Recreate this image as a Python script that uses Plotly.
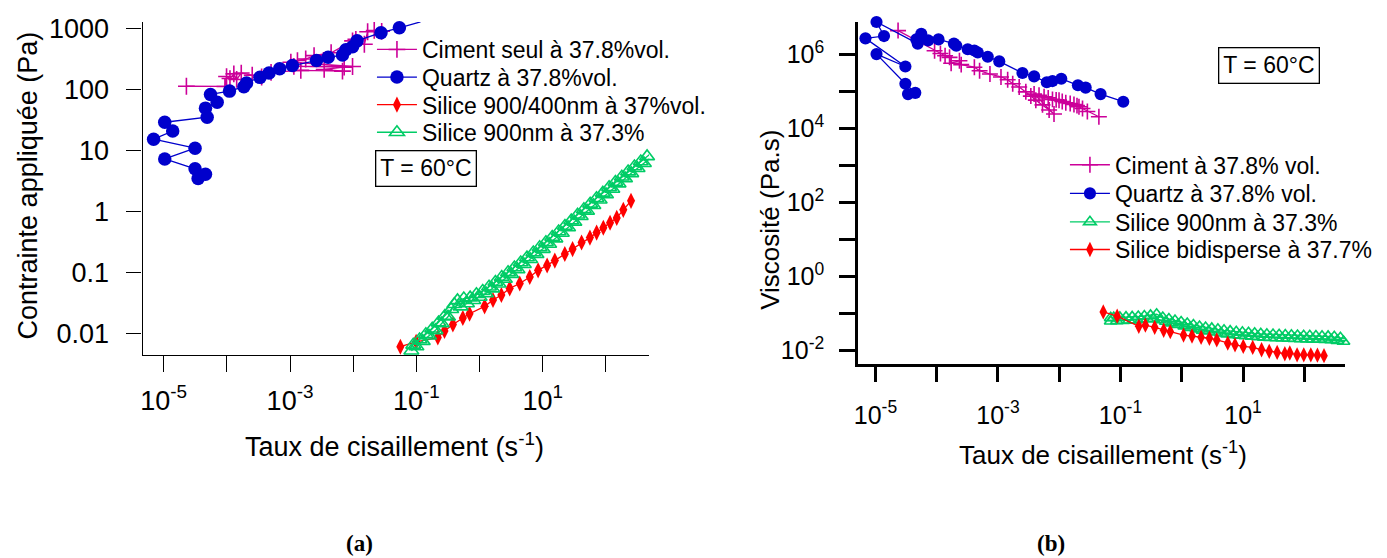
import plotly.graph_objects as go

# ---------------- Panel (a): stress vs shear rate ----------------
cim_a_rate = [2.29e-5, 9.33e-5, 9.89e-5, 1.12e-4, 1.29e-4, 1.43e-4, 1.69e-4, 2.52e-4, 3.55e-4, 5.01e-4,
              1.48e-3, 6.76e-3, 3.47e-3, 7.19e-3, 1.15e-3, 9.75e-3, 1.03e-3, 1.31e-3, 1.77e-3, 2.40e-3,
              4.47e-3, 9.75e-3, 1.10e-2, 1.50e-2, 1.69e-2, 2.15e-2, 2.82e-2]
cim_a_stress = [113, 112, 163, 151, 180, 146, 186, 171, 160, 190,
                206, 200, 213, 232, 240, 238, 280, 298, 316, 359,
                400, 626, 665, 552, 885, 929, 900]

quartz_a_rate = [3.51e-5, 4.59e-5, 3.14e-5, 1.04e-5, 3.14e-5, 6.93e-6, 1.39e-5, 1.04e-5, 4.88e-5, 4.59e-5,
                 7.03e-5, 5.51e-5, 1.10e-4, 1.86e-4, 2.05e-4, 3.34e-4, 4.65e-4, 6.85e-4, 1.09e-3, 2.62e-3,
                 4.01e-3, 6.76e-3, 7.66e-3, 9.75e-3, 1.15e-2, 2.75e-2, 5.37e-2, 0.116]
quartz_a_stress = [3.46, 4.06, 5.0, 7.26, 10.9, 15.3, 20.8, 29, 35, 49.4,
                   61.7, 83, 94, 111, 128, 158, 186, 218, 247, 298,
                   337, 367, 448, 501, 627, 853, 1026, 1283]

bidisp_a_rate = [0.0557, 0.0989, 0.218, 0.278, 0.378, 0.543, 0.693, 1.20, 1.63, 2.21, 2.99, 4.32, 6.22,
                 8.43, 11.7, 15.5, 22.3, 29.6, 41.1, 55.7, 71.1, 90.8, 116, 148, 188, 249]
bidisp_a_stress = [0.00604, 0.00726, 0.00853, 0.0109, 0.0140, 0.0179, 0.0210, 0.0277, 0.0353, 0.0426,
                   0.0546, 0.0658, 0.0841, 0.108, 0.130, 0.156, 0.200, 0.241, 0.309, 0.372, 0.449,
                   0.540, 0.650, 0.783, 1.06, 1.49]

s900_a_rate = [0.0832, 0.1, 0.126, 0.158, 0.2, 0.251, 0.316, 0.398, 0.501, 0.631,
               0.794, 1.0, 1.26, 1.58, 2.0, 2.51, 3.16, 3.98, 5.01, 6.31,
               7.94, 10, 12.6, 15.8, 20, 25.1, 31.6, 39.8, 50.1, 63.1,
               79.4, 100, 126, 158, 200, 251, 316, 398, 501, 603,
               562, 447, 355, 282, 224, 178, 141, 112, 89.1, 70.8,
               56.2, 44.7, 35.5, 28.2, 22.4, 17.8, 14.1, 11.2, 8.91, 7.08,
               5.62, 4.47, 3.55, 2.82, 2.24, 1.78, 1.41, 1.12, 0.891, 0.708,
               0.562, 0.447, 0.355, 0.282, 0.224, 0.178, 0.141, 0.112, 0.0891]
s900_a_stress = [0.00519, 0.00610, 0.00745, 0.00912, 0.0112, 0.0145, 0.0187, 0.0300, 0.0274, 0.0309,
                 0.0349, 0.0394, 0.0452, 0.0542, 0.0650, 0.0780, 0.0935, 0.112, 0.136, 0.164,
                 0.199, 0.241, 0.292, 0.358, 0.442, 0.546, 0.673, 0.832, 1.02, 1.26,
                 1.55, 1.90, 2.33, 2.86, 3.48, 4.21, 5.09, 6.17, 7.46, 8.71,
                 9.66, 7.98, 6.59, 5.44, 4.50, 3.71, 3.04, 2.48, 2.01, 1.64,
                 1.33, 1.08, 0.879, 0.711, 0.577, 0.467, 0.379, 0.311, 0.257, 0.212,
                 0.175, 0.145, 0.120, 0.100, 0.0836, 0.0697, 0.0581, 0.0495, 0.0437, 0.0385,
                 0.0372, 0.0347, 0.0249, 0.0193, 0.0150, 0.0119, 0.00968, 0.00793, 0.00647]

# ---------------- Panel (b): viscosity vs shear rate ----------------
cim_b_rate = [2.34e-5, 9.23e-5, 1.15e-4, 1.37e-4, 1.62e-4, 1.72e-4, 2.35e-4, 2.51e-4, 4.12e-4, 5.01e-4,
              7.4e-4, 1.12e-3, 1.44e-3, 1.74e-3, 2.22e-3, 2.85e-3, 3.44e-3, 4.15e-3, 5.33e-3, 6.84e-3,
              8.22e-3, 3.89e-3, 4.68e-3, 5.66e-3, 6.61e-3, 7.76e-3, 8.91e-3, 9.93e-3, 1.12e-2, 1.28e-2,
              1.51e-2, 1.74e-2, 1.95e-2, 2.10e-2, 2.40e-2, 2.88e-2, 4.44e-2]
cim_b_visc = [4.5e6, 1.28e6, 1.08e6, 9.4e5, 8.5e5, 5.9e5, 6.9e5, 5.4e5, 4.6e5, 3.7e5,
              3.0e5, 2.5e5, 2.1e5, 1.64e5, 1.34e5, 9.9e4, 7.6e4, 5.9e4, 4.4e4, 3.2e4,
              2.5e4, 8.6e4, 8.0e4, 7.3e4, 6.8e4, 6.2e4, 6.0e4, 5.9e4, 5.4e4, 5.0e4,
              4.8e4, 4.5e4, 4.2e4, 3.9e4, 3.5e4, 2.9e4, 2.1e4]

quartz_b_rate = [3.40e-5, 4.47e-5, 3.08e-5, 1.04e-5, 3.08e-5, 6.87e-6, 1.38e-5, 1.04e-5, 4.90e-5, 4.65e-5,
                 7.24e-5, 5.60e-5, 1.07e-4, 1.91e-4, 2.09e-4, 3.21e-4, 4.12e-4, 4.68e-4, 6.81e-4, 1.05e-3,
                 2.51e-3, 3.89e-3, 6.27e-3, 7.76e-3, 1.08e-2, 2.02e-2, 2.70e-2, 4.73e-2, 0.111]
quartz_b_visc = [8.6e4, 9.3e4, 1.64e5, 1.04e6, 4.8e5, 2.77e6, 3.2e6, 7.7e6, 2.0e6, 2.6e6,
                 2.45e6, 3.7e6, 2.6e6, 2.0e6, 1.75e6, 1.41e6, 1.3e6, 1.15e6, 8.8e5, 6.6e5,
                 3.2e5, 2.6e5, 1.8e5, 1.94e5, 2.24e5, 1.49e5, 1.29e5, 8.6e4, 5.35e4]

s900_b_rate = [0.0692, 0.0871, 0.110, 0.138, 0.174, 0.219, 0.275, 0.347, 0.437, 0.550,
               0.692, 0.871, 1.10, 1.38, 1.74, 2.19, 2.75, 3.47, 4.37, 5.50,
               6.92, 8.71, 11.0, 13.8, 17.4, 21.9, 27.5, 34.7, 43.7, 55.0,
               69.2, 87.1, 110, 138, 174, 219, 275, 347, 437, 513,
               513, 389, 309, 245, 195, 155, 123, 97.7, 77.6, 61.7,
               49.0, 38.9, 30.9, 24.5, 19.5, 15.5, 12.3, 9.77, 7.76, 6.17,
               4.90, 3.89, 3.09, 2.45, 1.95, 1.55, 1.23, 0.977, 0.776, 0.617,
               0.490, 0.389, 0.309, 0.245, 0.195, 0.155, 0.123, 0.0977, 0.0776, 0.0692]
s900_b_visc = [0.0617, 0.0627, 0.0637, 0.0647, 0.0659, 0.0681, 0.0703, 0.0728, 0.0662, 0.0603,
               0.0548, 0.0499, 0.0454, 0.0413, 0.0376, 0.0347, 0.0328, 0.0310, 0.0292, 0.0276,
               0.0261, 0.0253, 0.0245, 0.0238, 0.0231, 0.0224, 0.0219, 0.0216, 0.0213, 0.0210,
               0.0207, 0.0204, 0.0201, 0.0199, 0.0197, 0.0195, 0.0192, 0.0184, 0.0174, 0.0167,
               0.0205, 0.0220, 0.0234, 0.0238, 0.0241, 0.0244, 0.0247, 0.0249, 0.0252, 0.0256,
               0.0260, 0.0264, 0.0268, 0.0272, 0.0281, 0.0289, 0.0298, 0.0307, 0.0316, 0.0330,
               0.0349, 0.0370, 0.0392, 0.0415, 0.0441, 0.0484, 0.0532, 0.0585, 0.0643, 0.0706,
               0.0776, 0.0950, 0.0881, 0.0851, 0.0824, 0.0804, 0.0791, 0.0778, 0.0766, 0.0759]

bidisp_b_rate = [0.0524, 0.0883, 0.199, 0.255, 0.362, 0.507, 0.650, 1.07, 1.47, 2.07, 2.83, 3.73, 5.64,
                 7.41, 10.1, 14.4, 20.1, 26.8, 36.1, 48.2, 58.1, 76.4, 98.2, 128, 164, 210]
bidisp_b_visc = [0.11, 0.084, 0.045, 0.048, 0.042, 0.035, 0.032, 0.026, 0.0245, 0.0226, 0.0213, 0.0192,
                 0.0157, 0.0141, 0.0128, 0.012, 0.0104, 0.0094, 0.0088, 0.0081, 0.0085, 0.0076, 0.0076,
                 0.0076, 0.0074, 0.0072]

# ---------------- tick labels ----------------
x_tickvals = [1e-5, 1e-4, 1e-3, 1e-2, 1e-1, 1, 10, 100]
x_ticktext = ["10<sup>-5</sup>", "", "10<sup>-3</sup>", "", "10<sup>-1</sup>", "", "10<sup>1</sup>", ""]
ya_tickvals = [0.01, 0.1, 1, 10, 100, 1000]
ya_ticktext = ["0.01", "0.1", "1", "10", "100", "1000"]
yb_tickvals = [1e-2, 1e-1, 1, 10, 100, 1e3, 1e4, 1e5, 1e6]
yb_ticktext = ["10<sup>-2</sup>", "", "10<sup>0</sup>", "", "10<sup>2</sup>", "", "10<sup>4</sup>", "", "10<sup>6</sup>"]

MAGENTA = "#CC0099"
BLUE = "#0000CC"
RED = "#FF0000"
GREEN = "#00CC66"

# the page body has an 8px margin: figure pixel (0,0) lands at page (8,8)
OFF = 8
W, H = 1379, 550
FONT = "Liberation Sans, Arial, sans-serif"


def px(x):
    return (x - OFF) / W


def py(y):
    return 1 - (y - OFF) / H


fig = go.Figure()


def add(xv, yv, name, style, xa, ya, legend, msize_scale=1.0):
    color, symbol, size, lw_marker = style
    marker = dict(symbol=symbol, size=size * msize_scale, color=color,
                  line=dict(width=lw_marker, color=color))
    fig.add_trace(go.Scatter(x=xv, y=yv, name=name, mode="lines+markers",
                             line=dict(color=color, width=1.3), marker=marker,
                             xaxis=xa, yaxis=ya, legend=legend, cliponaxis=False,
                             showlegend=True))


st_cim = (MAGENTA, "cross-thin", 12, 1.6)
st_qz = (BLUE, "circle", 13.5, 0)
st_bi = (RED, "diamond-tall", 11.5, 0)
st_s9 = (GREEN, "triangle-up-open", 13, 1.6)

# panel (a)
add(cim_a_rate, cim_a_stress, "Ciment seul à 37.8%vol.", st_cim, "x", "y", "legend")
add(quartz_a_rate, quartz_a_stress, "Quartz à 37.8%vol.", st_qz, "x", "y", "legend2")
add(bidisp_a_rate, bidisp_a_stress, "Silice 900/400nm à 37%vol.", st_bi, "x", "y", "legend3")
add(s900_a_rate, s900_a_stress, "Silice 900nm à 37.3%", st_s9, "x", "y", "legend4")

# panel (b)
add(cim_b_rate, cim_b_visc, "Ciment à 37.8% vol.", st_cim, "x2", "y2", "legend5", 0.95)
add(quartz_b_rate, quartz_b_visc, "Quartz à 37.8% vol.", st_qz, "x2", "y2", "legend6", 0.9)
add(s900_b_rate, s900_b_visc, "Silice 900nm à 37.3%", st_s9, "x2", "y2", "legend7", 0.85)
add(bidisp_b_rate, bidisp_b_visc, "Silice bidisperse à 37.7%", st_bi, "x2", "y2", "legend8", 0.95)

axis_common = dict(type="log", showgrid=False, zeroline=False, showline=True, linecolor="black",
                   ticks="outside", tickcolor="black", ticklabeloverflow="allow")

legend_rows_a = [42, 70, 98, 126]
legend_rows_b = [159, 188, 217, 245]


def leg(xpage, ypage):
    return dict(x=px(xpage), y=py(ypage), xanchor="left", yanchor="middle",
                font=dict(family=FONT, size=23, color="black"),
                bgcolor="rgba(0,0,0,0)", borderwidth=0, itemwidth=40, visible=True)


legends = {}
for i, yrow in enumerate(legend_rows_a):
    legends["legend" if i == 0 else f"legend{i + 1}"] = leg(369, yrow)
for i, yrow in enumerate(legend_rows_b):
    legends[f"legend{i + 5}"] = leg(1064, yrow)

fig.update_layout(
    width=W, height=H, autosize=False,
    margin=dict(l=0, r=0, t=0, b=0),
    paper_bgcolor="white", plot_bgcolor="white",
    showlegend=True,
    font=dict(family=FONT, size=24, color="black"),
    xaxis=dict(axis_common, range=[-5.333, 2.683], domain=[px(139), px(647)], anchor="y",
               linewidth=1.3, tickwidth=1.3, ticklen=16,
               tickfont=dict(family=FONT, size=27, color="black"),
               tickvals=x_tickvals, ticktext=x_ticktext, ticklabelstandoff=5),
    yaxis=dict(axis_common, range=[-2.355, 3.108], domain=[py(352), py(14)], anchor="x",
               linewidth=1.3, tickwidth=1.3, ticklen=15,
               tickfont=dict(family=FONT, size=27, color="black"),
               tickvals=ya_tickvals, ticktext=ya_ticktext, ticklabelstandoff=12),
    xaxis2=dict(axis_common, range=[-5.281, 2.667], domain=[px(856.7), px(1345)], anchor="y2",
                linewidth=3, tickwidth=3, ticklen=15,
                tickfont=dict(family=FONT, size=25, color="black"),
                tickvals=x_tickvals, ticktext=x_ticktext, ticklabelstandoff=12),
    yaxis2=dict(axis_common, range=[-2.365, 6.888], domain=[py(361), py(14)], anchor="x2",
                linewidth=3, tickwidth=3, ticklen=16,
                tickfont=dict(family=FONT, size=25, color="black"),
                tickvals=yb_tickvals, ticktext=yb_ticktext, ticklabelstandoff=10),
    **legends,
)

ann_a = dict(family=FONT, size=27, color="black")
ann_b = dict(family=FONT, size=26, color="black")
box_font = dict(family=FONT, size=23, color="black")
serif = dict(family="Liberation Serif, DejaVu Serif, serif", size=23, color="black")
annotations = [
    dict(text="Taux de cisaillement (s<sup>-1</sup>)", x=px(392), y=py(443), font=ann_a),
    dict(text="Taux de cisaillement (s<sup>-1</sup>)", x=px(1102), y=py(452), font=ann_b),
    dict(text="Contrainte appliquée (Pa)", x=px(25), y=py(180), textangle=-90, font=ann_a),
    dict(text="Viscosité (Pa.s)", x=px(768), y=py(215), textangle=-90, font=ann_b),
    dict(text="T = 60°C", x=px(423), y=py(162.5), font=box_font,
         bordercolor="black", borderwidth=1.3, borderpad=4),
    dict(text="T = 60°C", x=px(1268.5), y=py(58), font=box_font,
         bordercolor="black", borderwidth=1.3, borderpad=4),
    dict(text="<b>(a)</b>", x=px(357), y=py(543), font=serif),
    dict(text="<b>(b)</b>", x=px(1050), y=py(543), font=serif),
]
for a in annotations:
    a.update(xref="paper", yref="paper", showarrow=False, xanchor="center", yanchor="middle")
fig.update_layout(annotations=annotations)

fig.write_html("out.html")
